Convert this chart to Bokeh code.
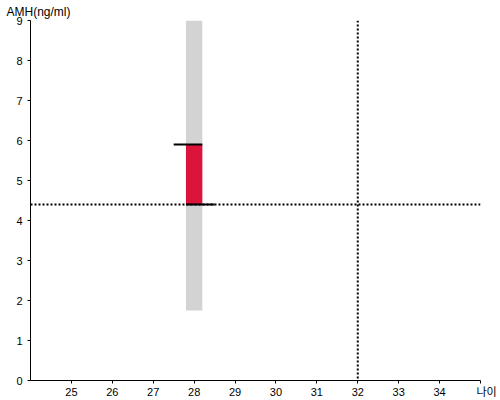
from bokeh.plotting import figure
from bokeh.models import Range1d, FixedTicker, Span, Title
from bokeh.embed import file_html
from bokeh.resources import INLINE

# ---- data ----
age = [28]
range_low = [1.75]
range_high = [9.0]
prev_value = [5.9]
cur_value = [4.4]
ref_age = 32
ref_amh = 4.4
x_ticks = [25, 26, 27, 28, 29, 30, 31, 32, 33, 34, 35]
x_labels = {35: "\u00a0\u00a0\u00a0\u00a0나이"}
y_ticks = [0, 1, 2, 3, 4, 5, 6, 7, 8, 9]
y_title = "AMH(ng/ml)"

p = figure(width=500, height=400, output_backend="svg", toolbar_location=None,
           x_range=Range1d(24, 35), y_range=Range1d(0, 9),
           min_border_left=30, min_border_top=20, min_border_right=20, min_border_bottom=20)
p.outline_line_color = None
p.grid.visible = False
p.background_fill_color = "white"
p.border_fill_color = "white"

p.add_layout(Title(text=y_title, align="left", offset=-24, standoff=3,
                   text_font="Liberation Sans", text_font_size="12px",
                   text_font_style="normal", text_color="black"), "above")

for ax, ticks in ((p.xaxis, x_ticks), (p.yaxis, y_ticks)):
    ax.ticker = FixedTicker(ticks=ticks)
    ax.axis_line_color = "black"
    ax.axis_line_width = 1
    ax.major_tick_line_color = "black"
    ax.major_tick_in = 0
    ax.major_tick_out = 3
    ax.minor_tick_line_color = None
    ax.major_label_text_font = "Liberation Sans, 'Noto Sans CJK KR'"
    ax.major_label_text_font_size = "11px"
    ax.major_label_text_color = "black"
p.xaxis.major_label_overrides = x_labels
p.xaxis.major_label_standoff = 2
p.yaxis.major_label_standoff = 5

w = 0.2
lefts = [a - w for a in age]
rights = [a + w for a in age]

# reference range bar
p.quad(left=lefts, right=rights, bottom=range_low, top=range_high,
       fill_color="#d3d3d3", line_color=None)
# change bar
p.quad(left=lefts, right=rights, bottom=cur_value, top=prev_value,
       fill_color="#dc143c", line_color=None)

# reference dotted lines
p.add_layout(Span(location=ref_amh, dimension="width", line_color="black",
                  line_width=2, line_dash="2 2"))
p.add_layout(Span(location=ref_age, dimension="height", line_color="black",
                  line_width=2, line_dash="2 2"))

# value markers
p.segment(x0=[a - 0.5 for a in age], x1=rights, y0=prev_value, y1=prev_value,
          line_color="black", line_width=2)
p.segment(x0=lefts, x1=[a + 0.5 for a in age], y0=cur_value, y1=cur_value,
          line_color="black", line_width=2)

open("out.html", "w").write(file_html(p, INLINE))
